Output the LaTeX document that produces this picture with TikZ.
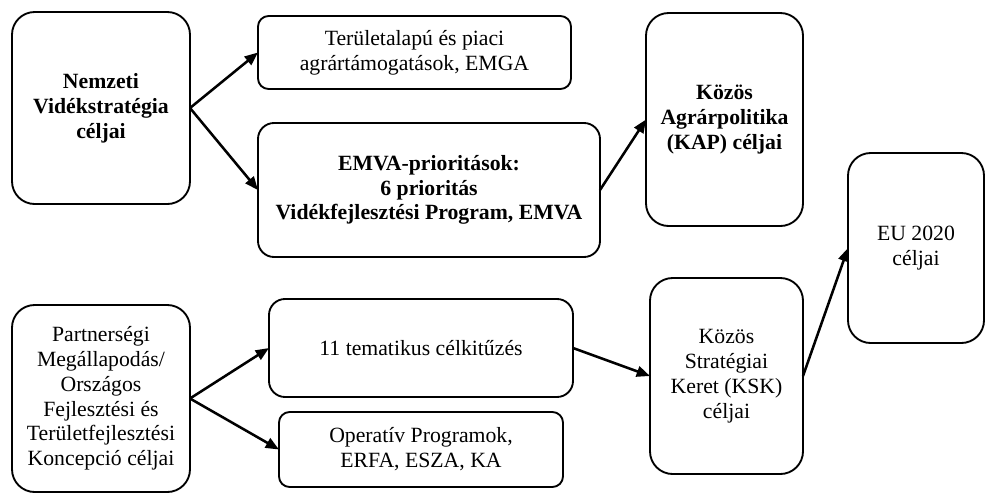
\documentclass[tikz,border=0pt]{standalone}
\usepackage{fontspec}
\setmainfont{Liberation Serif}
\usetikzlibrary{arrows.meta}
\begin{document}
\begin{tikzpicture}[x=0.75pt,y=-0.75pt,
  box/.style={draw, line width=1.4pt, rounded corners=#1, inner sep=0pt, outer sep=0pt, align=center, font=\fontsize{16.3}{18.6}\selectfont},
  box/.default=15pt,
  sz/.style 2 args={minimum width={#1*0.75pt}, minimum height={#2*0.75pt}},
  arr/.style={line width=1.9pt, -{Triangle[length=10pt,width=8pt]}}]
\useasboundingbox (0,0) rectangle (986,494);
\node[box=17pt, sz={178}{192}] (A) at (101,108) {\bfseries Nemzeti\\\bfseries Vidékstratégia\\\bfseries céljai};
\node[box=8pt, sz={313}{73}] (B) at (414.5,52.5) {Területalapú és piaci\\agrártámogatások, EMGA};
\node[box=12pt, sz={342}{134}] (C) at (429,190) {\bfseries EMVA-prioritások:\\\bfseries 6 prioritás\\\bfseries Vidékfejlesztési Program, EMVA};
\node[box=17pt, sz={157}{213}] (D) at (724.5,119.5) {\bfseries Közös\\\bfseries Agrárpolitika\\\bfseries (KAP) céljai};
\node[box=17pt, sz={136}{190}] (E) at (916,248) {EU 2020\\céljai};
\node[box=17pt, sz={178}{187}] (F) at (101,398.5) {Partnerségi\\Megállapodás/\\Országos\\Fejlesztési és\\Területfejlesztési\\Koncepció céljai};
\node[box=12pt, sz={304}{98}] (G) at (421,348) {11 tematikus célkitűzés};
\node[box=8pt, sz={284}{75}] (H) at (421,449.5) {Operatív Programok,\\ERFA, ESZA, KA};
\node[box=17pt, sz={153}{196}] (I) at (726.5,376) {Közös\\Stratégiai\\Keret (KSK)\\céljai};
\draw[arr] (A.east) -- (B.west);
\draw[arr] (A.east) -- (C.west);
\draw[arr] (C.east) -- (D.west);
\draw[arr] (F.east) -- (G.west);
\draw[arr] (F.east) -- (H.west);
\draw[arr] (G.east) -- (I.west);
\draw[arr] (I.east) -- (E.west);
\end{tikzpicture}
\end{document}
